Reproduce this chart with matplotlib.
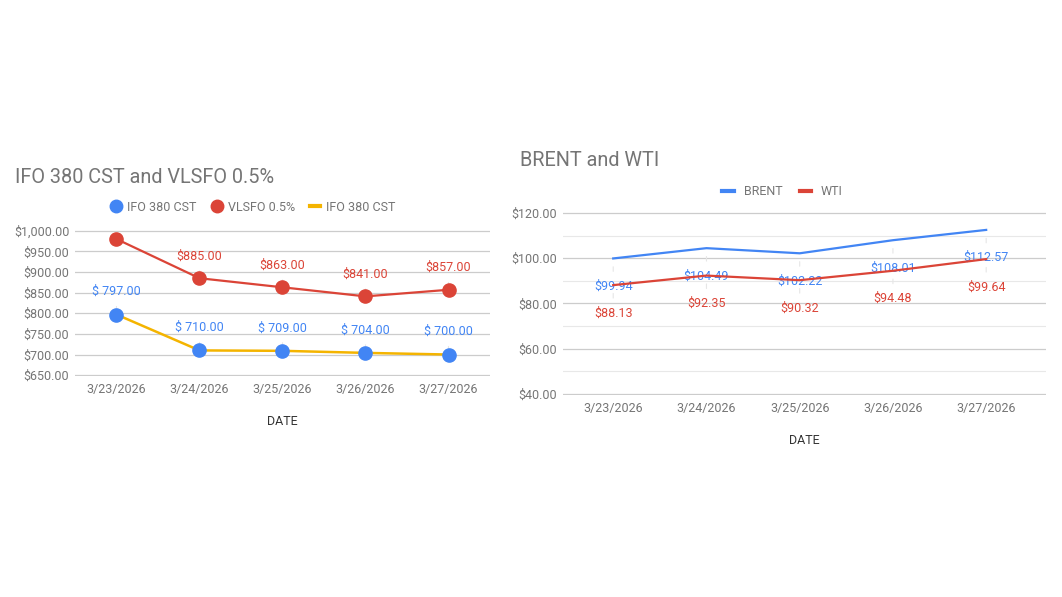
import matplotlib
matplotlib.use("Agg")
import matplotlib.pyplot as plt
from matplotlib.ticker import MultipleLocator, FuncFormatter

plt.rcParams['font.family'] = ['Roboto', 'DejaVu Sans']

dates = ['3/23/2026', '3/24/2026', '3/25/2026', '3/26/2026', '3/27/2026']
ifo380 = [797.00, 710.00, 709.00, 704.00, 700.00]
vlsfo = [980.00, 885.00, 863.00, 841.00, 857.00]
brent = [99.94, 104.49, 102.22, 108.01, 112.57]
wti = [88.13, 92.35, 90.32, 94.48, 99.64]

BLUE = '#4285F4'
RED = '#DB4437'
YELLOW = '#F4B400'
GRAY = '#757575'
GRID = '#cccccc'

fig = plt.figure(figsize=(10.62, 5.97), dpi=100)
x = list(range(len(dates)))


def style_axes(ax):
    for s in ax.spines.values():
        s.set_visible(False)
    ax.tick_params(axis='both', length=0, labelsize=9, colors=GRAY, pad=5)
    ax.tick_params(axis='y', pad=4)
    ax.set_xticks(x)
    ax.set_xticklabels(dates)
    ax.set_xlabel('DATE', fontsize=9, color='#333333', labelpad=14)


def label(ax, i, v, text, color, dy):
    ax.annotate(text, xy=(i, v), xytext=(0, dy), textcoords='offset points',
                ha='center', va='center', fontsize=9, color=color, zorder=2,
                arrowprops=dict(arrowstyle='-', color='#e6e6e6', lw=0.8,
                                shrinkA=4, shrinkB=6))


# left chart
ax1 = fig.add_axes([0.0706, 0.3702, 0.3908, 0.2446])
style_axes(ax1)
ax1.set_xlim(-0.5, 4.5)
ax1.set_ylim(648, 1002)
ax1.set_yticks([650, 700, 750, 800, 850, 900, 950, 1000])
ax1.yaxis.set_major_formatter(FuncFormatter(lambda v, p: '${:,.2f}'.format(v)))
ax1.grid(axis='y', color=GRID, lw=0.9)
ax1.set_axisbelow(True)

ax1.plot(x, vlsfo, color=RED, lw=1.6, marker='o', ms=9.5, zorder=3)
ax1.plot(x, ifo380, color=YELLOW, lw=1.8, zorder=3)
ax1.plot(x, ifo380, color=BLUE, lw=0, marker='o', ms=9.5, zorder=4)
for i, v in enumerate(vlsfo):
    if i > 0:
        label(ax1, i, v, '${:,.2f}'.format(v), RED, 16)
for i, v in enumerate(ifo380):
    label(ax1, i, v, '$ {:,.2f}'.format(v), BLUE, 16.5)

ax1.plot([], [], color=BLUE, lw=0, marker='o', ms=9, label='IFO 380 CST')
ax1.plot([], [], color=RED, lw=0, marker='o', ms=9, label='VLSFO 0.5%')
ax1.plot([], [], color=YELLOW, lw=3, label='IFO 380 CST')
h, l = ax1.get_legend_handles_labels()
ax1.legend(h[-3:], l[-3:], loc='center', bbox_to_anchor=(0.43, 1.155), ncol=3,
           frameon=False, fontsize=9, labelcolor=GRAY, handlelength=0.8,
           columnspacing=1.2, handletextpad=0.5)
fig.text(15 / 1062, 1 - 177 / 597, 'IFO 380 CST and VLSFO 0.5%', fontsize=14.3,
         color=GRAY, va='center', ha='left')

# right chart
ax2 = fig.add_axes([0.530, 0.3384, 0.4548, 0.3065])
style_axes(ax2)
ax2.set_xlim(-0.54, 4.64)
ax2.set_ylim(39.5, 120.5)
ax2.set_yticks([40, 60, 80, 100, 120])
ax2.yaxis.set_minor_locator(MultipleLocator(10))
ax2.yaxis.set_major_formatter(FuncFormatter(lambda v, p: '${:,.2f}'.format(v)))
ax2.tick_params(axis='y', which='minor', length=0)
ax2.grid(axis='y', which='major', color=GRID, lw=0.9)
ax2.grid(axis='y', which='minor', color='#e8e8e8', lw=0.8)
ax2.set_axisbelow(True)

ax2.plot(x, brent, color=BLUE, lw=1.6, label='BRENT', zorder=3)
ax2.plot(x, wti, color=RED, lw=1.6, label='WTI', zorder=3)
for i, v in enumerate(brent):
    label(ax2, i, v, '${:,.2f}'.format(v), BLUE, -20)
for i, v in enumerate(wti):
    label(ax2, i, v, '${:,.2f}'.format(v), RED, -20)

ax2.legend(loc='center', bbox_to_anchor=(0.455, 1.11), ncol=2, frameon=False,
           fontsize=9, labelcolor=GRAY, handlelength=0.9, columnspacing=1.4,
           handletextpad=0.8)
for line in ax2.get_legend().get_lines():
    line.set_linewidth(3)
fig.text(520 / 1062, 1 - 161 / 597, 'BRENT and WTI', fontsize=14.3,
         color=GRAY, va='center', ha='left')

fig.savefig('out.png', dpi=100, facecolor='white')
